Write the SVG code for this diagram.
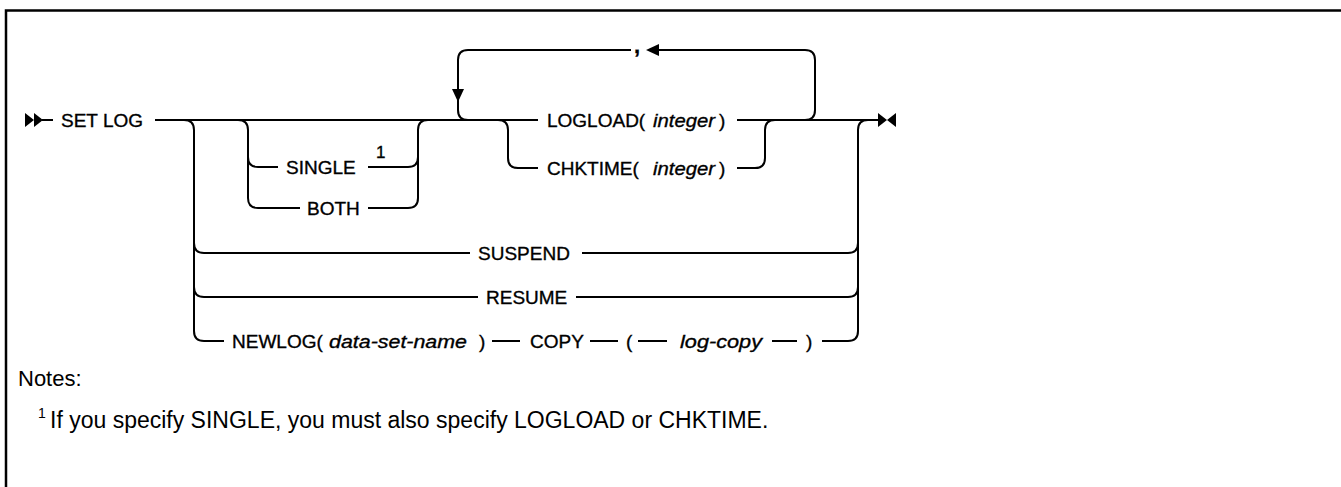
<svg xmlns="http://www.w3.org/2000/svg" width="1341" height="487" viewBox="0 0 1341 487">
<style>
.t{font-family:"Liberation Sans",Arial,sans-serif;font-size:19px;fill:#000;stroke:#000;stroke-width:0.35}
.i{font-style:italic}
.n{font-family:"Liberation Sans",Arial,sans-serif;font-size:22px;fill:#000}
.c{fill:none;stroke:#000;stroke-width:2}
.m{fill:#000}
</style>
<rect width="1341" height="487" fill="#fff"/>
<g id="frame"><path d="M6 487 V10.5 H1341" fill="none" stroke="#000" stroke-width="2.5"/></g>
<g id="connectors">
<polygon class="m" points="25,113 34,120 25,127"/>
<polygon class="m" points="34,113 43,120 34,127"/>
<path class="c" d="M42 120 H53"/>
<path class="c" d="M155 120 H538"/>
<path class="c" d="M737 120 H878"/>
<path class="c" d="M184 120 Q194 120 194 130 V331 Q194 341 204 341 H224"/>
<path class="c" d="M194 243 Q194 253 204 253 H470"/>
<path class="c" d="M194 287 Q194 297 204 297 H478"/>
<path class="c" d="M582 253 H848 Q858 253 858 243"/>
<path class="c" d="M576 297 H848 Q858 297 858 287"/>
<path class="c" d="M822 341 H848 Q858 341 858 331 V130 Q858 120 868 120"/>
<path class="c" d="M238 120 Q248 120 248 130 V198 Q248 208 258 208 H300"/>
<path class="c" d="M248 157 Q248 167 258 167 H278"/>
<path class="c" d="M368 167 H408 Q418 167 418 157"/>
<path class="c" d="M368 208 H408 Q418 208 418 198 V130 Q418 120 428 120"/>
<path class="c" d="M498 120 Q508 120 508 130 V158 Q508 168 518 168 H538"/>
<path class="c" d="M737 168 H755 Q765 168 765 158 V130 Q765 120 775 120"/>
<path class="c" d="M805 120 Q815 120 815 110 V60 Q815 50 805 50 H658"/>
<path class="c" d="M631 50 H468 Q458 50 458 60 V110 Q458 120 468 120"/>
<polygon class="m" points="646,50 659,44 659,56"/>
<polygon class="m" points="458,102 452,89 464,89"/>
<polygon class="m" points="878,113 887,120 878,127"/>
<polygon class="m" points="896,113 887,120 896,127"/>
<path class="c" d="M492 341 H520"/>
<path class="c" d="M590 341 H618"/>
<path class="c" d="M638 341 H667"/>
<path class="c" d="M772 341 H797"/>
</g>
<g id="setlog"><text class="t" x="61" y="127">SET LOG</text></g>
<g id="single"><text class="t" x="286" y="174">SINGLE</text><text class="t" x="376" y="158" style="font-size:17px">1</text></g>
<g id="both"><text class="t" x="307" y="215">BOTH</text></g>
<g id="comma"><text class="t" x="634" y="53" style="font-size:22px;font-weight:bold">,</text></g>
<g id="logload"><text class="t" x="547" y="127">LOGLOAD(</text><text class="t i" x="653" y="127" textLength="62" lengthAdjust="spacingAndGlyphs">integer</text><text class="t" x="719" y="127">)</text></g>
<g id="chktime"><text class="t" x="547" y="175">CHKTIME(</text><text class="t i" x="653" y="175" textLength="62" lengthAdjust="spacingAndGlyphs">integer</text><text class="t" x="719" y="175">)</text></g>
<g id="suspend"><text class="t" x="478" y="260">SUSPEND</text></g>
<g id="resume"><text class="t" x="486" y="304">RESUME</text></g>
<g id="newlog">
<text class="t" x="232" y="348">NEWLOG(</text>
<text class="t i" x="329" y="348" textLength="138" lengthAdjust="spacingAndGlyphs">data-set-name</text>
<text class="t" x="479" y="348">)</text>
<text class="t" x="530" y="348">COPY</text>
<text class="t" x="626" y="348">(</text>
<text class="t i" x="680" y="348" textLength="82" lengthAdjust="spacingAndGlyphs">log-copy</text>
<text class="t" x="806" y="348">)</text>
</g>
<g id="notes">
<text class="n" x="18" y="386">Notes:</text>
<text class="n" x="38" y="418" style="font-size:14px">1</text>
<text class="n" x="50" y="428" style="font-size:23px">If you specify SINGLE, you must also specify LOGLOAD or CHKTIME.</text>
</g>
</svg>
